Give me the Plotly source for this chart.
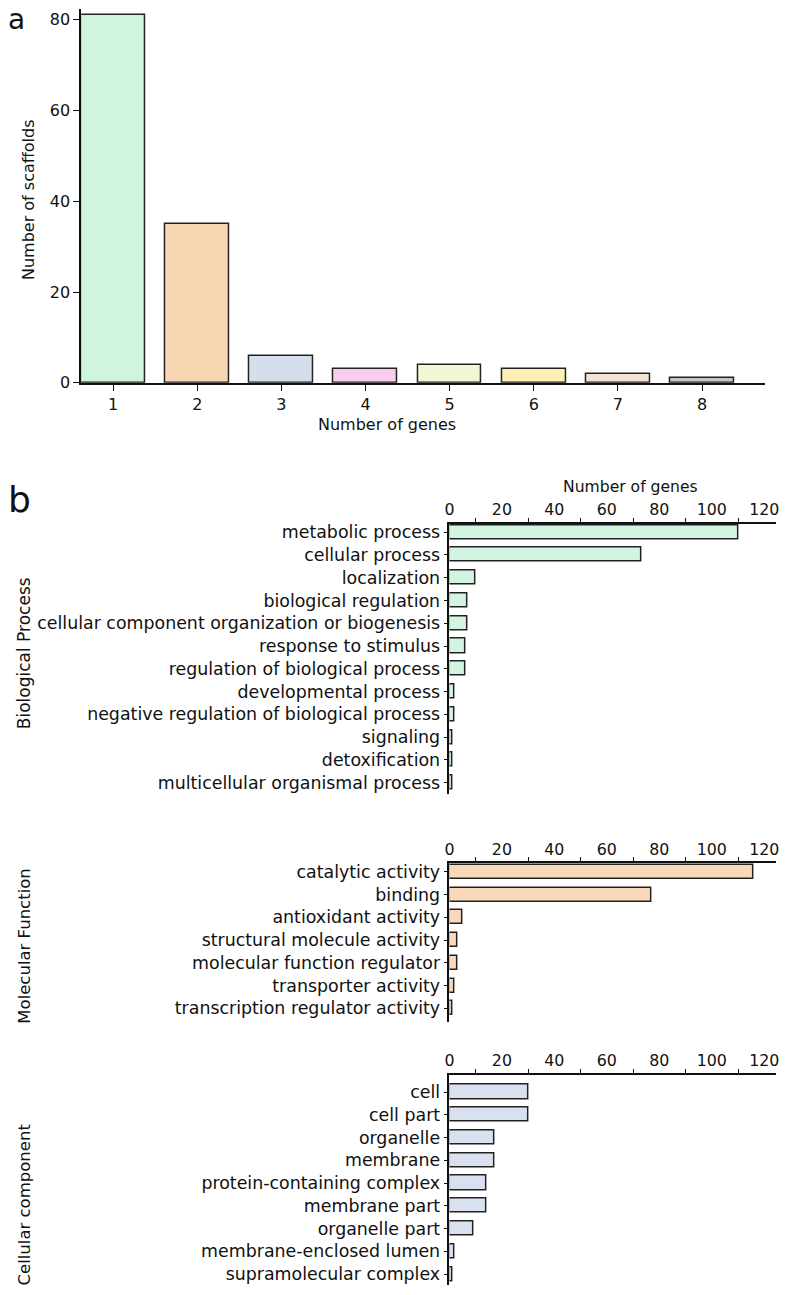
import plotly.graph_objects as go

W, H = 785, 1295

# ---------------- data ----------------
gene_counts = [1, 2, 3, 4, 5, 6, 7, 8]
scaffolds = [81, 35, 6, 3, 4, 3, 2, 1]
scaffold_colors = ["#d0f5df", "#f8d6b4", "#d6ddec", "#f8cdee",
                   "#eff8d2", "#fdf0b2", "#f2e5d4", "#c6c6c6"]

bp_terms = ["metabolic process", "cellular process", "localization",
            "biological regulation", "cellular component organization or biogenesis",
            "response to stimulus", "regulation of biological process",
            "developmental process", "negative regulation of biological process",
            "signaling", "detoxification", "multicellular organismal process"]
bp_counts = [110, 73, 10, 7, 7, 6, 6, 2, 2, 1, 1, 1]

mf_terms = ["catalytic activity", "binding", "antioxidant activity",
            "structural molecule activity", "molecular function regulator",
            "transporter activity", "transcription regulator activity"]
mf_counts = [116, 77, 5, 3, 3, 2, 1]

cc_terms = ["cell", "cell part", "organelle", "membrane", "protein-containing complex",
            "membrane part", "organelle part", "membrane-enclosed lumen",
            "supramolecular complex"]
cc_counts = [30, 30, 17, 17, 14, 14, 9, 2, 1]

go_ticks = [0, 20, 40, 60, 80, 100, 120]
FONT = "DejaVu Sans"
EDGE = "#222222"


def px(x):
    return x / W


def py(y):
    return 1 - y / H


fig = go.Figure()

# ---------------- panel a ----------------
fig.add_trace(go.Bar(
    x=gene_counts, y=scaffolds, width=0.76,
    marker=dict(color=scaffold_colors, line=dict(color=EDGE, width=1.5)),
    xaxis="x", yaxis="y", showlegend=False))

# ---------------- panel b ----------------
fig.add_trace(go.Bar(
    x=bp_counts, y=bp_terms, orientation="h", width=0.62,
    marker=dict(color="#d2f5e2", line=dict(color=EDGE, width=1.5)),
    xaxis="x2", yaxis="y2", showlegend=False))
fig.add_trace(go.Bar(
    x=mf_counts, y=mf_terms, orientation="h", width=0.62,
    marker=dict(color="#f9d9ba", line=dict(color=EDGE, width=1.5)),
    xaxis="x3", yaxis="y3", showlegend=False))
fig.add_trace(go.Bar(
    x=cc_counts, y=cc_terms, orientation="h", width=0.62,
    marker=dict(color="#d9e0ef", line=dict(color=EDGE, width=1.5)),
    xaxis="x4", yaxis="y4", showlegend=False))

axis_common = dict(showline=True, linecolor="#111111", linewidth=1.6,
                   showgrid=False, zeroline=False, mirror=False)

gx = [px(449), px(779)]
layout = dict(
    width=W, height=H, autosize=False,
    margin=dict(l=0, r=0, t=0, b=0),
    plot_bgcolor="white", paper_bgcolor="white",
    font=dict(family=FONT, color="#111111", size=16),
    bargap=0,
    xaxis=dict(domain=[px(77), px(768)], range=[0.62, 8.75], tickvals=gene_counts,
               ticks="outside", ticklen=6, tickwidth=1.2, tickcolor="#111111",
               tickfont=dict(size=16), anchor="y", **axis_common),
    yaxis=dict(domain=[py(385), py(8)], range=[0, 82.4], tickvals=[0, 20, 40, 60, 80],
               ticks="outside", ticklen=6, tickwidth=1.2, tickcolor="#111111",
               tickfont=dict(size=16), anchor="x", **axis_common),
)


def go_x(anchor):
    return dict(domain=gx, range=[0, 124.5], side="top", tickvals=go_ticks,
                ticks="outside", ticklen=0, tickcolor="rgba(0,0,0,0)",
                tickfont=dict(size=15.8), anchor=anchor,
                minor=dict(tickvals=[10, 30, 50, 70, 90, 110], ticks="outside",
                           ticklen=4, tickwidth=1.2, tickcolor="#111111"),
                **axis_common)


def go_y(anchor, terms, rng, dom):
    return dict(domain=dom, type="category", categoryorder="array", categoryarray=terms,
                range=rng, ticks="outside", ticklen=4, tickwidth=1.2, tickcolor="#111111",
                tickfont=dict(size=17.4), anchor=anchor, **axis_common)


layout["xaxis2"] = go_x("y2")
layout["yaxis2"] = go_y("x2", bp_terms, [11.5, -0.38], [py(799.8), py(527)])
layout["xaxis3"] = go_x("y3")
layout["yaxis3"] = go_y("x3", mf_terms, [6.6, -0.39], [py(1029.7), py(869.3)])
layout["xaxis4"] = go_x("y4")
layout["yaxis4"] = go_y("x4", cc_terms, [8.48, -0.77], [0, py(1082.7)])

ann = []


def note(text, x, y, size, angle=0, xanchor="center", yanchor="middle"):
    ann.append(dict(text=text, x=px(x), y=py(y), xref="paper", yref="paper",
                    showarrow=False, textangle=angle, xanchor=xanchor, yanchor=yanchor,
                    font=dict(size=size, family=FONT, color="#111111")))


note("a", 1, 0, 28, xanchor="left", yanchor="top")
note("b", 1, 503, 36, xanchor="left")
note("Number of scaffolds", 24, 200, 16, angle=-90)
note("Number of genes", 386, 427, 16)
note("Number of genes", 632, 490, 15.6)
note("Biological Process", 20, 658, 17, angle=-90)
note("Molecular Function", 20, 953, 16.5, angle=-90)
note("Cellular component", 20, 1214, 16.5, angle=-90)

layout["annotations"] = ann
fig.update_layout(**layout)
fig.write_html(
    "out.html",
    config={"displayModeBar": False},
    post_script="document.body.style.margin='0px';"
                "document.documentElement.style.overflow='hidden';"
                "document.body.style.overflow='hidden';")
